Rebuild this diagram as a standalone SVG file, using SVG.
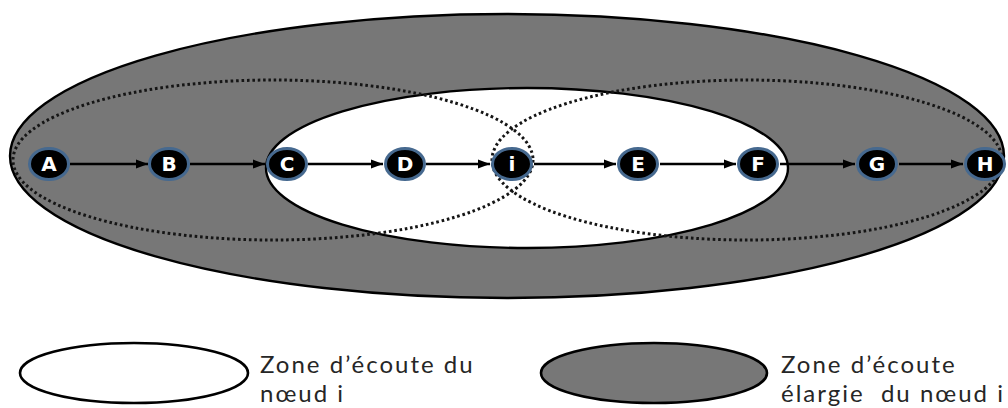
<svg xmlns="http://www.w3.org/2000/svg" width="1008" height="408" viewBox="0 0 1008 408">
  <defs>
    <marker id="arr" viewBox="0 0 12 10" refX="12" refY="5" markerWidth="12" markerHeight="10" markerUnits="userSpaceOnUse" orient="auto">
      <path d="M0,0.5 L12,5 L0,9.5 Z" fill="#000"/>
    </marker>
    <style>
      .zone { stroke: #000; stroke-width: 2.4; }
      .dot { fill: none; stroke: #151515; stroke-width: 3; stroke-dasharray: 2.6 2.8; }
      .edge { stroke: #000; stroke-width: 2.4; fill: none; marker-end: url(#arr); }
      .node ellipse { fill: #000; stroke: #46698f; stroke-width: 3; }
      .node text { fill: #fff; font-family: "DejaVu Sans", sans-serif; font-weight: bold; font-size: 20px; text-anchor: middle; }
      .legend { fill: #262626; font-family: Lato, "Open Sans", sans-serif; font-size: 24px; letter-spacing: 2px; }
    </style>
  </defs>
  <rect width="1008" height="408" fill="#fff"/>
  <g id="zones">
    <ellipse id="zone-elargie" class="zone" cx="507" cy="156" rx="497" ry="142" fill="#777777"/>
    <ellipse id="zone-ecoute" class="zone" cx="527" cy="168" rx="261" ry="80" fill="#ffffff"/>
    <ellipse id="zone-gauche" class="dot" cx="273" cy="160" rx="260" ry="80"/>
    <ellipse id="zone-droite" class="dot" cx="747" cy="160" rx="255" ry="80"/>
  </g>
  <g id="connectors">
    <line class="edge" x1="70" y1="164" x2="148" y2="164"/>
    <line class="edge" x1="190" y1="164" x2="265" y2="164"/>
    <line class="edge" x1="308" y1="164" x2="383" y2="164"/>
    <line class="edge" x1="426" y1="164" x2="490" y2="164"/>
    <line class="edge" x1="534" y1="164" x2="616" y2="164"/>
    <line class="edge" x1="660" y1="164" x2="736" y2="164"/>
    <line class="edge" x1="780" y1="164" x2="855" y2="164"/>
    <line class="edge" x1="899" y1="164" x2="963" y2="164"/>
  </g>
  <g id="node-A" class="node"><ellipse cx="49" cy="164" rx="19.5" ry="15.5"/><text x="49" y="171">A</text></g>
  <g id="node-B" class="node"><ellipse cx="169" cy="164" rx="19.5" ry="15.5"/><text x="169" y="171">B</text></g>
  <g id="node-C" class="node"><ellipse cx="287" cy="164" rx="19.5" ry="15.5"/><text x="287" y="171">C</text></g>
  <g id="node-D" class="node"><ellipse cx="405" cy="164" rx="19.5" ry="15.5"/><text x="405" y="171">D</text></g>
  <g id="node-i" class="node"><ellipse cx="512" cy="164" rx="19.5" ry="15.5"/><text x="512" y="171">i</text></g>
  <g id="node-E" class="node"><ellipse cx="638" cy="164" rx="19.5" ry="15.5"/><text x="638" y="171">E</text></g>
  <g id="node-F" class="node"><ellipse cx="758" cy="164" rx="19.5" ry="15.5"/><text x="758" y="171">F</text></g>
  <g id="node-G" class="node"><ellipse cx="877" cy="164" rx="19.5" ry="15.5"/><text x="877" y="171">G</text></g>
  <g id="node-H" class="node"><ellipse cx="985" cy="164" rx="19.5" ry="15.5"/><text x="985" y="171">H</text></g>
  <g id="legend-ecoute">
    <ellipse cx="134" cy="373" rx="114" ry="30" fill="#fff" stroke="#000" stroke-width="2.6"/>
    <text class="legend" x="260" y="373">Zone d’écoute du</text>
    <text class="legend" x="260" y="402">nœud i</text>
  </g>
  <g id="legend-elargie">
    <ellipse cx="654" cy="373" rx="113" ry="30" fill="#777777" stroke="#000" stroke-width="2.6"/>
    <text class="legend" x="781" y="373">Zone d’écoute</text>
    <text class="legend" x="781" y="402" xml:space="preserve">élargie  du nœud i</text>
  </g>
</svg>
